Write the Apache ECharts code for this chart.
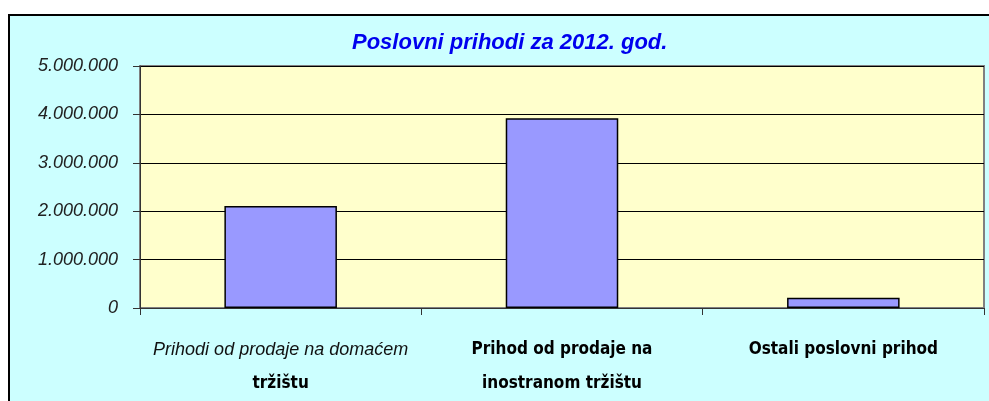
<!DOCTYPE html>
<html><head><meta charset="utf-8">
<script src="https://cdn.jsdelivr.net/npm/echarts@6/dist/echarts.min.js"></script>
<style>html,body{margin:0;padding:0;background:#fff}#c{width:989px;height:401px}</style>
</head><body><div id="c"></div>
<script>
var titleText = 'Poslovni prihodi za 2012. god.';
var categories = ['Prihodi od prodaje na domaćem\ntržištu', 'Prihod od prodaje na\ninostranom tržištu', 'Ostali poslovni prihod'];
var values = [2110000, 3920000, 210000];
var yTicks = [0, 1000000, 2000000, 3000000, 4000000, 5000000];

function fmt(v){ return String(v).replace(/\B(?=(\d{3})+(?!\d))/g, '.'); }

var chart = echarts.init(document.getElementById('c'), null, {renderer:'canvas'});
chart.setOption({
  backgroundColor: '#ffffff',
  animation: false,
  graphic: [{
    type: 'rect', z: -10, silent: true,
    shape: {x: 9, y: 15, width: 1000, height: 400},
    style: {fill: '#CCFFFF', stroke: '#000', lineWidth: 2}
  }],
  title: {
    text: titleText, left: 347, top: 27,
    textStyle: {color: '#0000EE', fontFamily: 'Liberation Sans', fontStyle: 'italic', fontWeight: 'bold', fontSize: 22}
  },
  grid: {left: 140, top: 66, right: 5, bottom: 93, show: true, backgroundColor: '#FFFFCC', borderColor: '#808080', borderWidth: 2},
  xAxis: {
    type: 'category', data: categories,
    axisLine: {lineStyle: {color: '#333', width: 1}},
    axisTick: {show: true, length: 7, lineStyle: {color: '#333'}},
    axisLabel: {
      margin: 25, interval: 0,
      formatter: function(v, i){
        var parts = v.split('\n');
        if (i === 0) return '{it|' + parts[0] + '}\n{b|' + parts[1] + '}';
        return parts.map(function(p){ return '{b|' + p + '}'; }).join('\n');
      },
      rich: {
        it: {fontFamily: 'Liberation Sans', fontStyle: 'italic', fontSize: 18, color: '#111', lineHeight: 34},
        b: {fontFamily: 'Liberation Sans Narrow, DejaVu Sans Condensed, Liberation Sans', fontWeight: 'bold', fontSize: 17, color: '#000', lineHeight: 34}
      }
    }
  },
  yAxis: {
    type: 'value', min: yTicks[0], max: yTicks[yTicks.length-1], interval: yTicks[1]-yTicks[0],
    axisLine: {show: true, lineStyle: {color: '#333'}},
    axisTick: {show: true, length: 7, lineStyle: {color: '#333'}},
    splitLine: {lineStyle: {color: '#000', width: 1}},
    axisLabel: {margin: 22, formatter: fmt, fontFamily: 'Liberation Sans', fontStyle: 'italic', fontSize: 18, color: '#222'}
  },
  series: [{
    type: 'bar', data: values, barWidth: '40%',
    itemStyle: {color: '#9999FF', borderColor: '#000', borderWidth: 1.5}
  }]
});
</script></body></html>
